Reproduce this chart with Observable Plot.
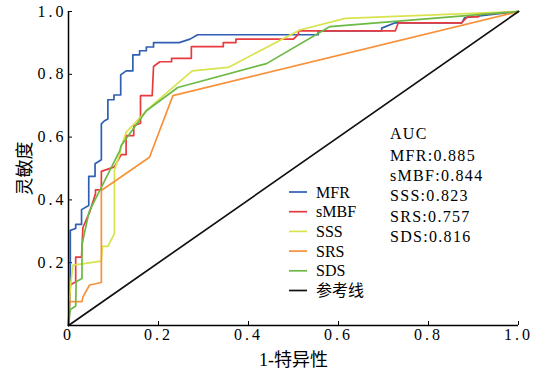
<!DOCTYPE html>
<html><head><meta charset="utf-8">
<script src="https://cdn.jsdelivr.net/npm/d3@7"></script>
<script src="https://cdn.jsdelivr.net/npm/@observablehq/plot@0.6"></script>
<style>body{margin:0;background:#fff}</style>
</head><body><div id="chart"></div>
<script>
const seriesNames = ["MFR","sMBF","SSS","SRS","SDS"];
const seriesColors = ["#2f5fb3","#e83a3f","#d8e34e","#f7923a","#6cb944"];
const aucValues = ["0.885","0.844","0.823","0.757","0.816"];
const refName = "参考线";
const xTicks = [0,0.2,0.4,0.6,0.8,1.0];
const yTicks = [0.2,0.4,0.6,0.8,1.0];

const mfrX = [0,0.004,0.004,0.016,0.016,0.029,0.029,0.045,0.045,0.059,0.059,0.073,0.073,0.080,0.0875,0.0875,0.101,0.101,0.116,0.116,0.128,0.143,0.143,0.158,0.158,0.173,0.173,0.189,0.189,0.246,0.27,0.287,0.555,0.555,0.696,0.696,0.726,0.874,0.88,1];
const mfrY = [0,0.12,0.303,0.309,0.322,0.322,0.369,0.382,0.475,0.475,0.515,0.528,0.642,0.652,0.658,0.719,0.719,0.734,0.734,0.798,0.811,0.811,0.862,0.862,0.875,0.875,0.887,0.887,0.901,0.901,0.912,0.926,0.926,0.938,0.938,0.947,0.964,0.964,0.98,1];

const smbfX = [0,0.004,0.016,0.016,0.029,0.032,0.047,0.060,0.060,0.073,0.073,0.102,0.117,0.128,0.128,0.145,0.145,0.160,0.160,0.186,0.189,0.203,0.229,0.229,0.273,0.273,0.344,0.344,0.372,0.372,0.5,0.511,0.511,0.726,0.733,0.874,0.886,0.911,0.914,1];
const smbfY = [0,0.129,0.139,0.218,0.218,0.312,0.361,0.420,0.432,0.432,0.491,0.505,0.544,0.544,0.605,0.605,0.636,0.644,0.732,0.732,0.825,0.840,0.840,0.851,0.851,0.888,0.888,0.901,0.901,0.912,0.912,0.928,0.938,0.938,0.964,0.964,0.983,0.983,0.991,1];

const sssX = [0,0.004,0.01,0.073,0.075,0.0875,0.102,0.102,0.114,0.117,0.128,0.177,0.236,0.275,0.355,0.514,0.615,1];
const sssY = [0,0.123,0.192,0.205,0.252,0.252,0.293,0.494,0.547,0.568,0.615,0.69,0.763,0.811,0.822,0.941,0.978,1];

const srsX = [0,0.002,0.03,0.032,0.047,0.073,0.073,0.18,0.232,1];
const srsY = [0,0.076,0.076,0.091,0.129,0.137,0.43,0.536,0.732,1];

const sdsX = [0,0.004,0.016,0.017,0.03,0.03,0.045,0.048,0.114,0.117,0.173,0.243,0.44,0.581,1];
const sdsY = [0,0.051,0.062,0.139,0.15,0.258,0.358,0.369,0.557,0.573,0.684,0.758,0.834,0.952,1];

const refX = [0,1];
const refY = [0,1];

const seriesX = [mfrX,smbfX,sssX,srsX,sdsX];
const seriesY = [mfrY,smbfY,sssY,srsY,sdsY];
const rows = seriesNames.flatMap((name,i)=>seriesX[i].map((x,j)=>({series:name,x,y:seriesY[i][j]})));
const refRows = refX.map((x,j)=>({x,y:refY[j]}));

const font = "'Liberation Serif','Noto Sans CJK SC',serif";
const chart = Plot.plot({
  width:542, height:374,
  marginLeft:68, marginRight:24, marginTop:11, marginBottom:49,
  style:{fontFamily:font, fontSize:"16px", color:"#000", background:"#fff"},
  x:{domain:[0,1]},
  y:{domain:[0,1]},
  color:{domain:seriesNames, range:seriesColors},
  marks:[
    Plot.axisX({ticks:xTicks, tickFormat:d=>d===0?"0":d.toFixed(1), tickSize:-4, tickPadding:7, fontFamily:font, fontSize:16, label:null}),
    Plot.axisX({ticks:[], label:"1-特异性", labelArrow:"none", labelAnchor:"center", labelOffset:40, fontFamily:font, fontSize:18, tickSize:0}),
    Plot.axisY({ticks:yTicks, tickFormat:d=>d.toFixed(1), tickSize:-4, tickPadding:6, fontFamily:font, fontSize:16, label:null}),
    Plot.axisY({ticks:[], label:"灵敏度", labelArrow:"none", labelAnchor:"center", labelOffset:50, fontFamily:font, fontSize:18, tickSize:0}),
    Plot.line(rows,{x:"x",y:"y",z:"series",stroke:"series",strokeWidth:1.7}),
    Plot.line(refRows,{x:"x",y:"y",stroke:"#111",strokeWidth:1.7}),
    Plot.ruleX([0],{stroke:"#000",strokeWidth:1.5}),
    Plot.ruleY([0],{stroke:"#000",strokeWidth:1.5})
  ]
});
document.getElementById("chart").appendChild(chart);

const svg = d3.select(chart);
// serif digits with wide spacing, like the original
svg.selectAll('g[aria-label="x-axis tick label"] text, g[aria-label="y-axis tick label"] text')
  .style("font-family",font).style("letter-spacing","3px").style("font-variant","normal");
svg.selectAll('g[aria-label="x-axis label"] text, g[aria-label="y-axis label"] text')
  .style("font-family",font);

// legend & AUC annotation
const lg = svg.append("g").attr("font-family",font).attr("font-size",16).attr("text-anchor","start");
const legNames = [...seriesNames, refName];
const legColors = [...seriesColors, "#111"];
legNames.forEach((n,i)=>{
  const cy = 192 + i*19.7;
  lg.append("line").attr("x1",289).attr("x2",307).attr("y1",cy).attr("y2",cy).attr("stroke",legColors[i]).attr("stroke-width",1.7);
  lg.append("text").attr("x",316).attr("y",cy).attr("dy","0.35em").text(n);
});
const ag = svg.append("g").attr("font-family",font).attr("font-size",16).attr("text-anchor","start").attr("letter-spacing","1.3px");
ag.append("text").attr("x",390).attr("y",133).attr("dy","0.35em").text("AUC");
seriesNames.forEach((n,i)=>{
  ag.append("text").attr("x",390).attr("y",155+i*20.3).attr("dy","0.35em").text(n+":"+aucValues[i]);
});
</script></body></html>
